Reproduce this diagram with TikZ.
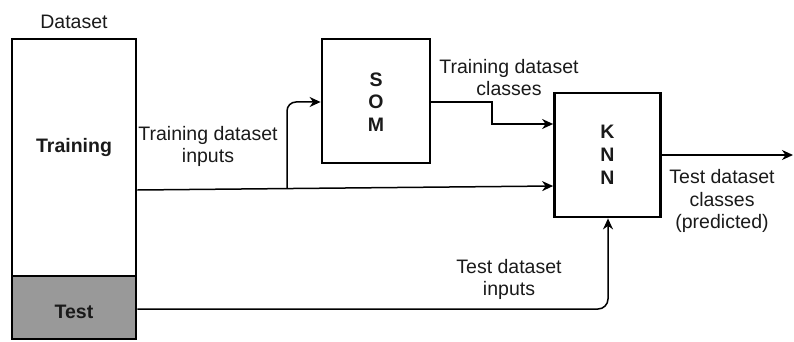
\documentclass[tikz,border=0pt]{standalone}
\usepackage{fontspec}
\setmainfont{Liberation Sans}
\usetikzlibrary{arrows.meta}
\definecolor{testgray}{HTML}{999999}
\definecolor{ink}{HTML}{1A1A1A}
\begin{document}
\begin{tikzpicture}[x=1pt,y=-1pt,
  box/.style={draw=black, line width=2.8pt, inner sep=0pt},
  lbl/.style={font=\fontsize{19.5}{22.8}\selectfont, text=ink, align=center, inner sep=0pt},
  blbl/.style={lbl, font=\fontsize{19.5}{22.8}\selectfont\bfseries},
  wire/.style={draw=black, line width=1.5pt},
  tip/.style={-{Stealth[length=11pt, width=10pt, inset=3.5pt]}}
]
\useasboundingbox (0,0) rectangle (794,342);

% dataset split into training and test parts
\node[box, minimum width=124pt, minimum height=237pt] (train) at (74,157.5) {};
\node[box, fill=testgray, minimum width=124pt, minimum height=63pt] (test) at (74,307.5) {};
\node[lbl] (dslbl) at (74,22) {Dataset};
\node[blbl] (trlbl) at (74,148) {Training};
\node[blbl] (tslbl) at (74,312) {Test};

% the two models
\node[box, minimum width=108pt, minimum height=124pt] (som) at (376,101) {};
\node[blbl] (somlbl) at (376,102) {S\\O\\M};
\node[box, minimum width=106pt, minimum height=124pt] (knn) at (607.5,155) {};
\node[blbl] (knnlbl) at (607.5,155) {K\\N\\N};

% connector end points
\coordinate (trout) at (train.east |- 0,190);
\coordinate (branch) at (287,188.6);
\coordinate (knnin) at (knn.west |- 0,186);
\coordinate (tsout) at (test.east |- 0,309);
\coordinate (predout) at (793,155);

% training inputs feed both SOM and KNN
\draw[wire, tip] (trout) -- (knnin);
\draw[wire, tip, rounded corners=9pt] (branch) -- (287,102) -- (som.west |- 0,102);
% SOM classes to KNN
\draw[wire, tip] (som.east |- 0,102) -- (492,102) -- (492,124) -- (knn.west |- 0,124);
% test inputs to KNN
\draw[wire, tip, rounded corners=10pt] (tsout) -- (608,309) -- (knn.south -| 608,0);
% predicted classes out
\draw[wire, tip] (knn.east |- 0,155) -- (predout);

% connector labels
\node[lbl] (l1) at (208,146.5) {Training dataset\\inputs};
\node[lbl] (l2) at (509,77.5) {Training dataset\\classes};
\node[lbl] (l3) at (722,201) {Test dataset\\classes\\(predicted)};
\node[lbl] (l4) at (509,279.5) {Test dataset\\inputs};
\end{tikzpicture}
\end{document}
